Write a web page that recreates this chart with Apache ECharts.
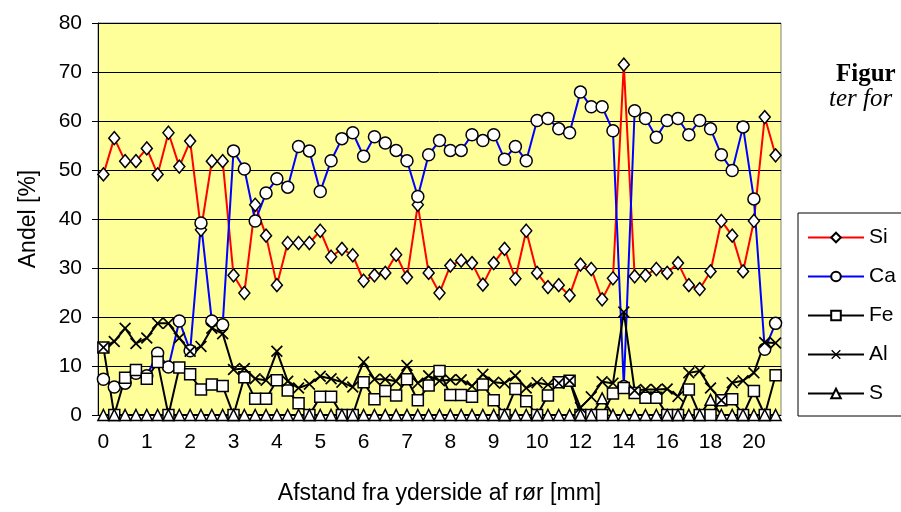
<!DOCTYPE html>
<html>
<head>
<meta charset="utf-8">
<script src="https://cdn.jsdelivr.net/npm/echarts@6/dist/echarts.min.js"></script>
<style>
  html, body { margin: 0; padding: 0; background: #fff; }
  #move { width: 901px; height: 512px; }
</style>
</head>
<body>
<div id="move"></div>
<script>
// 横轴：离管外侧距离 [mm]，每 4 个类目标一个刻度
var afstand = [
  0, 0.25, 0.5, 0.75, 1, 1.25, 1.5, 1.75, 2, 2.25,
  2.5, 2.75, 3, 3.25, 3.5, 3.75, 4, 4.25, 4.5, 4.75,
  5, 5.25, 5.5, 5.75, 6, 6.25, 6.5, 6.75, 7, 7.25,
  7.5, 7.75, 8, 8.25, 8.5, 8.75, 9, 9.25, 9.5, 9.75,
  10, 10.5, 11, 11.5, 12, 12.5, 13, 13.5, 14, 14.5,
  15, 15.5, 16, 16.5, 17, 17.5, 18, 18.5, 19, 19.5,
  20, 20.5, 21
];
var visteTal = [0, 1, 2, 3, 4, 5, 6, 7, 8, 9, 10, 12, 14, 16, 18, 20];

// 各元素含量 [%]
var si = [
  49.1, 56.5, 51.8, 51.8, 54.4, 49.1, 57.6, 50.7, 55.9, 37.8,
  51.8, 51.8, 28.5, 24.9, 42.9, 36.6, 26.5, 35.1, 35.1, 35.1,
  37.6, 32.3, 33.9, 32.6, 27.4, 28.5, 29.0, 32.7, 28.1, 42.9,
  29.0, 24.9, 30.5, 31.5, 31.0, 26.6, 31.0, 33.9, 27.8, 37.6,
  29.0, 26.1, 26.5, 24.4, 30.7, 29.8, 23.6, 27.9, 71.5, 28.3,
  28.5, 29.8, 29.0, 31.0, 26.5, 25.7, 29.3, 39.6, 36.6, 29.3,
  39.6, 60.8, 53.0
];
var ca = [
  7.3, 5.7, 6.5, 8.5, 8.0, 12.6, 9.8, 19.2, 13.1, 39.2,
  19.2, 18.4, 53.9, 50.2, 39.6, 45.3, 48.2, 46.5, 54.8, 53.9,
  45.6, 51.9, 56.4, 57.6, 52.8, 56.8, 55.5, 54.0, 51.9, 44.6,
  53.1, 56.0, 54.0, 54.0, 57.2, 56.0, 57.2, 52.2, 54.8, 51.9,
  60.1, 60.5, 58.4, 57.6, 65.9, 62.9, 62.9, 58.0, 5.8, 62.1,
  60.5, 56.7, 60.1, 60.5, 57.2, 60.1, 58.4, 53.1, 49.9, 58.8,
  44.1, 13.4, 18.7
];
var fe = [
  13.8, 0, 7.6, 9.2, 7.4, 10.8, 0, 9.7, 8.3, 5.2,
  6.2, 5.9, 0, 7.7, 3.3, 3.3, 7.1, 5.0, 2.4, 0,
  3.7, 3.7, 0, 0, 6.7, 3.2, 4.9, 4.0, 7.3, 3.0,
  6.0, 9.0, 4.1, 4.1, 3.7, 6.2, 3.0, 0, 5.3, 2.8,
  0, 4.0, 6.7, 7.0, 0, 0, 0, 4.4, 5.5, 4.5,
  3.5, 3.5, 0, 0, 5.2, 0, 0, 3.0, 3.2, 0,
  4.9, 0, 8.1
];
var al = [
  13.8, 15.0, 17.7, 14.6, 15.7, 18.7, 18.7, 15.7, 13.0, 14.0,
  17.7, 16.6, 9.3, 9.5, 7.4, 7.1, 13.0, 6.9, 5.5, 6.3,
  7.9, 7.4, 6.7, 5.7, 10.8, 7.3, 7.3, 6.9, 10.1, 6.5,
  8.0, 7.0, 7.2, 7.2, 5.9, 8.3, 6.7, 6.5, 8.0, 5.5,
  6.6, 6.2, 6.5, 7.0, 1.5, 3.7, 6.8, 6.5, 21.0, 5.0,
  5.2, 5.2, 5.3, 3.8, 8.6, 9.0, 5.5, 3.0, 6.6, 7.0,
  8.6, 14.8, 14.7
];
var s = [
  0, 0, 0, 0, 0, 0, 0, 0, 0, 0,
  0, 0, 0, 0, 0, 0, 0, 0, 0, 0,
  0, 0, 0, 0, 0, 0, 0, 0, 0, 0,
  0, 0, 0, 0, 0, 0, 0, 0, 0, 0,
  0, 0, 0, 0, 0, 0, 3.4, 0, 0, 0,
  0, 0, 0, 0, 0, 0, 3.1, 0, 0, 0,
  0, 0, 0
];

var myChart = echarts.init(document.getElementById('move'));

var font = 'Liberation Sans, Arial, sans-serif';
var kryds = 'path://M0,1L1,0L5,4L9,0L10,1L6,5L10,9L9,10L5,6L1,10L0,9L4,5Z';

function serie(navn, data, farve, symbol, size) {
  return {
    name: navn,
    type: 'line',
    data: data,
    symbol: symbol,
    symbolSize: size,
    showAllSymbol: true,
    animation: false,
    lineStyle: { color: farve, width: 2 },
    itemStyle: {
      color: symbol === kryds ? '#000' : '#fff',
      borderColor: '#000',
      borderWidth: symbol === kryds ? 0 : 1.5
    }
  };
}

var option = {
  backgroundColor: '#fff',
  textStyle: { fontFamily: font },
  grid: {
    left: 98, right: 120, top: 23, bottom: 97,
    show: true,
    backgroundColor: '#FFFF99',
    borderColor: '#808080',
    borderWidth: 1
  },
  legend: {
    orient: 'vertical',
    left: 798,
    top: 213,
    padding: [14, 40, 12, 9],
    itemWidth: 56,
    itemHeight: 12,
    itemGap: 18,
    backgroundColor: '#fff',
    borderColor: '#000',
    borderWidth: 1,
    textStyle: { fontSize: 21, color: '#000', fontFamily: font },
    data: ['Si', 'Ca', 'Fe', 'Al', 'S']
  },
  graphic: [
    { type: 'text', left: 836, top: 62,
      style: { text: 'Figur', font: 'bold 25px "Liberation Serif", serif', fill: '#000' } },
    { type: 'text', left: 829, top: 87,
      style: { text: 'ter for', font: 'italic 25px "Liberation Serif", serif', fill: '#000' } }
  ],
  xAxis: {
    type: 'category',
    data: afstand,
    boundaryGap: true,
    name: 'Afstand fra yderside af rør [mm]',
    nameLocation: 'middle',
    nameGap: 67,
    nameTextStyle: { fontSize: 23, color: '#000' },
    axisLine: { lineStyle: { color: '#000', width: 1 } },
    axisTick: { interval: 0, length: 4, lineStyle: { color: '#000' } },
    axisLabel: {
      fontSize: 21,
      color: '#000',
      margin: 17,
      interval: function (idx, val) {
        return visteTal.indexOf(Number(val)) >= 0 && idx % 4 === 0;
      }
    },
    splitLine: { show: false }
  },
  yAxis: {
    type: 'value',
    min: 0,
    max: 80,
    interval: 10,
    name: 'Andel [%]',
    nameLocation: 'middle',
    nameGap: 58,
    nameTextStyle: { fontSize: 23, color: '#000' },
    axisLine: { show: true, lineStyle: { color: '#000', width: 1 } },
    axisTick: { show: true, length: 6, lineStyle: { color: '#000' } },
    axisLabel: { fontSize: 21, color: '#000', margin: 16 },
    splitLine: { lineStyle: { color: '#000', width: 1 } }
  },
  series: [
    serie('Si', si, '#FF0000', 'diamond', [11, 13]),
    serie('Ca', ca, '#0000FF', 'circle', 12),
    serie('Fe', fe, '#000', 'rect', 11),
    serie('Al', al, '#000', kryds, 12),
    serie('S', s, '#000', 'triangle', 11)
  ]
};

myChart.setOption(option);
</script>
</body>
</html>
